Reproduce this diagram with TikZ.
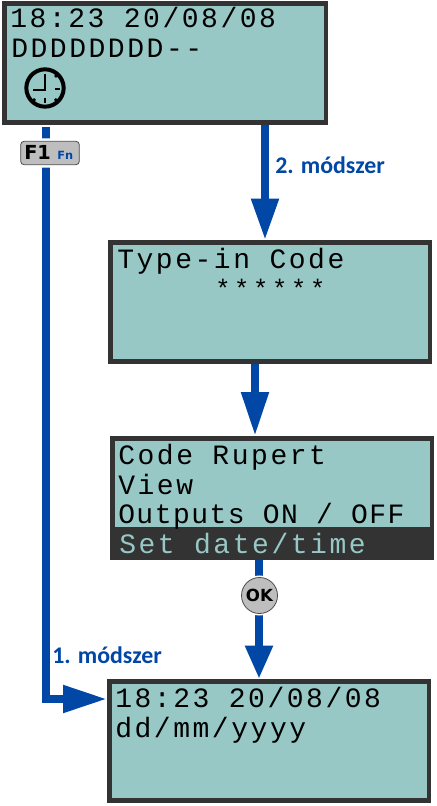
\documentclass[tikz,border=0pt]{standalone}
\usepackage{fontspec}
\usetikzlibrary{arrows.meta,calc}
\newfontfamily\lcdfont[LetterSpace=9.1]{Liberation Mono}
\newfontfamily\lcdtight[LetterSpace=5.2]{Liberation Mono}
\newfontfamily\lcdstar[LetterSpace=15]{Liberation Mono}
\newfontfamily\labelfont{Carlito}
\newfontfamily\keyfont{DejaVu Sans}
\definecolor{lcd}{HTML}{97C8C6}
\definecolor{frame}{HTML}{333333}
\definecolor{flow}{HTML}{0047A6}
\definecolor{keygrey}{HTML}{BEBEBE}
\tikzset{
  screen/.style={draw=frame,fill=lcd,line width=3.4pt,minimum width=239.7pt,minimum height=89.6pt,inner sep=0pt,anchor=north west},
  lcdtext/.style={inner sep=0pt,anchor=base west,text=black,font=\lcdfont\fontsize{21pt}{21pt}\selectfont},
  flowline/.style={draw=flow,line width=6pt},
  flowarrow/.style={flowline,-{Triangle[length=#1,width=19.5pt,fill=flow,color=flow]}},
  methodlabel/.style={inner sep=0pt,anchor=base west,text=flow,font=\labelfont\bfseries\fontsize{17.9pt}{17.9pt}\selectfont},
  clockline/.style={draw=black,line width=1.9pt},
}
\begin{document}
\begin{tikzpicture}[x=0.75pt,y=-0.75pt]
\useasboundingbox (0,0) rectangle (436,806);
\fill[white] (0,0) rectangle (436,806);
\coordinate (leftrun) at (46,127);
\coordinate (leftcorner) at (46,699);
\coordinate (twostart) at (265,125);
\coordinate (threestart) at (255,364);
\coordinate (fourstart) at (259,560);
\node[screen,minimum width=241.2pt] (s1) at (2,1) {};
\node[screen] (s2) at (108,240) {};
\node[screen] (s4) at (107,679) {};
\node[screen] (s3) at (110,436) {};
\fill[frame] (110,527) rectangle (434,560);
% text
\node[lcdtext] (t11) at (10,28) {18:23 20/08/08};
\node[lcdtext] (t12) at (11,58) {DDDDDDDD--};
\node[lcdtext] (t21) at (117,268) {Type-in Code};
\node[lcdtext,font=\lcdstar\fontsize{19pt}{19pt}\selectfont] (t22) at (215,297) {******};
\node[lcdtext] (t31) at (118,464) {Code Rupert};
\node[lcdtext] (t32) at (118,494) {View};
\node[lcdtext,font=\lcdtight\fontsize{21pt}{21pt}\selectfont] (t33) at (118,523) {Outputs ON / OFF};
\node[lcdtext,text=lcd] (t34) at (119,553) {Set date/time};
\node[lcdtext] (t41) at (115,707) {18:23 20/08/08};
\node[lcdtext] (t42) at (115,737) {dd/mm/yyyy};
% clock
\node[circle,draw=black,line width=3pt,minimum size=28pt,inner sep=0pt] (clock) at (45,88) {};
\draw[clockline] (45,74) -- (45,90) -- (33,90);
\foreach \a/\b/\c/\d in {55/89/60/89,45/98/45/103,55/77/57/75,55/99/57/101,35/99/33/101}{\draw[clockline] (\a,\b) -- (\c,\d);}
% connectors
\draw[flowline] (leftrun) -- (leftcorner) -- ++(30,0);
\coordinate (lefthead) at (62,699);
\draw[flowarrow=33pt] (lefthead) -- (s4.west |- leftcorner);
\draw[flowarrow=31pt] (twostart) -- (twostart |- s2.north);
\draw[flowarrow=33pt] (threestart) -- (threestart |- s3.north);
\draw[flowarrow=25pt] (fourstart) -- (fourstart |- s4.north);
% keys
\node[draw=black!70,fill=keygrey,rounded corners=2.5pt,line width=0.6pt,minimum width=44pt,minimum height=17.5pt,inner sep=0pt,preaction={draw=white,line width=4.5pt}] (f1) at (50,153) {};
\node[inner sep=0pt,anchor=base west,font=\keyfont\bfseries\fontsize{14.5pt}{14.5pt}\selectfont] (f1t) at (24,159.5) {F1};
\node[inner sep=0pt,anchor=base west,text=flow,font=\keyfont\bfseries\fontsize{8.5pt}{8.5pt}\selectfont] (fnt) at (57,159.5) {Fn};
\node[circle,draw=black!70,fill=keygrey,line width=0.6pt,minimum size=27pt,inner sep=0pt,preaction={draw=white,line width=3pt}] (ok) at (259.5,595.5) {};
\node[inner sep=0pt,font=\keyfont\bfseries\fontsize{12.5pt}{12.5pt}\selectfont] (okt) at (ok.center) {OK};
% labels
\node[methodlabel] (m2) at (275,174) {2. módszer};
\node[methodlabel] (m1) at (52,663) {1. módszer};
\end{tikzpicture}
\end{document}
